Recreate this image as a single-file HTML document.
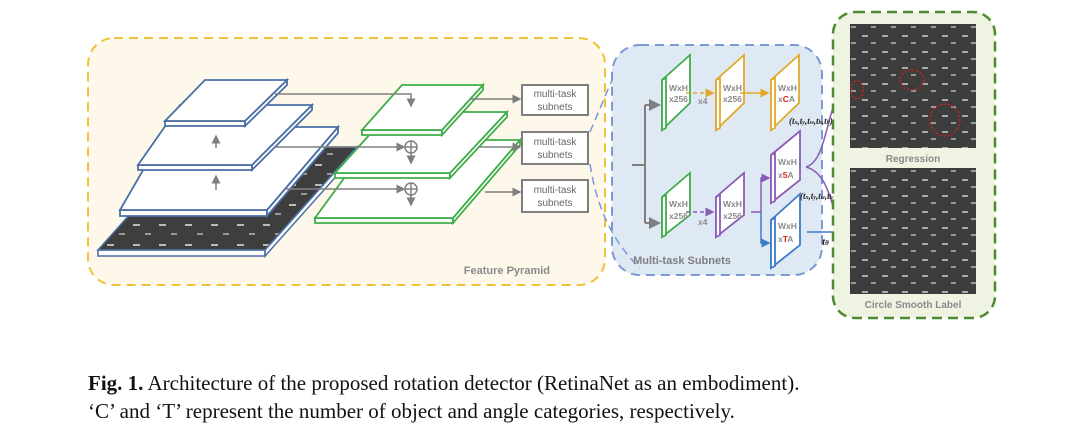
<!DOCTYPE html>
<html><head><meta charset="utf-8"><style>
html,body{margin:0;padding:0;background:#fff;width:1080px;height:442px;overflow:hidden}
svg{display:block}
</style></head><body>
<svg width="1080" height="442" viewBox="0 0 1080 442" xmlns="http://www.w3.org/2000/svg" font-family="Liberation Sans, sans-serif">
<defs>
<marker id="ag" markerWidth="6" markerHeight="6" refX="5" refY="3" orient="auto"><path d="M0,0 L6,3 L0,6z" fill="#7f7f7f"/></marker>
<marker id="ay" markerWidth="6" markerHeight="6" refX="5" refY="3" orient="auto"><path d="M0,0 L6,3 L0,6z" fill="#e0a92a"/></marker>
<marker id="ap" markerWidth="6" markerHeight="6" refX="5" refY="3" orient="auto"><path d="M0,0 L6,3 L0,6z" fill="#8a5cb5"/></marker>
<marker id="ab" markerWidth="6" markerHeight="6" refX="5" refY="3" orient="auto"><path d="M0,0 L6,3 L0,6z" fill="#3d7cc9"/></marker>
<pattern id="cars" width="26" height="20" patternUnits="userSpaceOnUse">
<rect width="26" height="20" fill="#3e3e3e"/>
<rect x="3" y="4" width="7" height="2" fill="#bbb"/><rect x="15" y="13" width="6" height="2" fill="#999"/>
</pattern>
<pattern id="cars2" width="20" height="16" patternUnits="userSpaceOnUse">
<rect width="20" height="16" fill="#3d3d3d"/>
<rect x="2" y="3" width="6" height="2" fill="#aaa"/><rect x="11" y="10" width="5" height="2" fill="#999"/>
</pattern>
</defs>

<!-- Feature pyramid panel -->
<rect x="88" y="38" width="517" height="247" rx="26" fill="#fdf8e9" stroke="#f0c23a" stroke-width="2" stroke-dasharray="9,6"/>
<text x="550" y="274" font-size="11" font-weight="bold" fill="#8a8a8a" text-anchor="end">Feature Pyramid</text>

<!-- image plane -->
<polygon points="190,147 357,147 265,250 98,250" fill="url(#cars)"/>
<polygon points="98,250 265,250 265,256 98,256" fill="#fff" stroke="#4a6fa5" stroke-width="1.5"/>
<polygon points="265,250 357,147 357,153 265,256" fill="#fff" stroke="#4a6fa5" stroke-width="1.5"/>
<polygon points="190,147 357,147 265,250 98,250" fill="none" stroke="#4a6fa5" stroke-width="1.5"/>

<!-- blue planes -->
<g stroke="#4a6fa5" stroke-width="1.8" fill="#fff">
<polygon points="120,210 267,210 267,216 120,216"/><polygon points="267,210 338,127 338,133 267,216"/>
<polygon points="168,127 338,127 267,210 120,210"/>
<polygon points="138,165 252,165 252,170 138,170"/><polygon points="252,165 312,105 312,110 252,170"/>
<polygon points="180,105 312,105 252,165 138,165"/>
<polygon points="165,121 245,121 245,126 165,126"/><polygon points="245,121 287,80 287,85 245,126"/>
<polygon points="205,80 287,80 245,121 165,121"/>
</g>
<g stroke="#7f7f7f" stroke-width="1.5" fill="none">
<line x1="216" y1="148" x2="216" y2="136" marker-end="url(#ag)"/>
<line x1="216" y1="190" x2="216" y2="176" marker-end="url(#ag)"/>
</g>

<!-- green planes -->
<g stroke="#3fae49" stroke-width="1.8" fill="#fff">
<polygon points="315,218 453,218 453,223 315,223"/><polygon points="453,218 520,140 520,145 453,223"/>
<polygon points="372,140 520,140 453,218 315,218"/>
<polygon points="335,173 450,173 450,178 335,178"/><polygon points="450,173 507,112 507,117 450,178"/>
<polygon points="390,112 507,112 450,173 335,173"/>
<polygon points="362,130 442,130 442,135 362,135"/><polygon points="442,130 483,85 483,90 442,135"/>
<polygon points="402,85 483,85 442,130 362,130"/>
</g>
<g stroke="#7f7f7f" stroke-width="1.5" fill="none">
<polyline points="275,94 411,94 411,106" marker-end="url(#ag)"/>
<line x1="275" y1="147" x2="404" y2="147" marker-end="url(#ag)"/>
<circle cx="411" cy="147" r="6"/><line x1="405" y1="147" x2="417" y2="147"/><line x1="411" y1="141" x2="411" y2="153"/>
<line x1="411" y1="153" x2="411" y2="163" marker-end="url(#ag)"/>
<line x1="285" y1="189" x2="404" y2="189" marker-end="url(#ag)"/>
<circle cx="411" cy="189" r="6"/><line x1="405" y1="189" x2="417" y2="189"/><line x1="411" y1="183" x2="411" y2="195"/>
<line x1="411" y1="195" x2="411" y2="205" marker-end="url(#ag)"/>
<line x1="470" y1="99" x2="520" y2="99" marker-end="url(#ag)"/>
<line x1="478" y1="147" x2="520" y2="147" marker-end="url(#ag)"/>
<line x1="485" y1="192" x2="520" y2="192" marker-end="url(#ag)"/>
</g>
<g fill="#fff" stroke="#7f7f7f" stroke-width="2">
<rect x="522" y="85" width="66" height="30"/><rect x="522" y="132" width="66" height="32"/><rect x="522" y="180" width="66" height="32"/>
</g>
<g font-size="10" fill="#666" text-anchor="middle">
<text x="555" y="97">multi-task</text><text x="555" y="110">subnets</text>
<text x="555" y="145">multi-task</text><text x="555" y="158">subnets</text>
<text x="555" y="193">multi-task</text><text x="555" y="206">subnets</text>
</g>

<!-- Multi-task subnets panel -->
<rect x="612" y="45" width="210" height="230" rx="28" fill="#dfe9f4" stroke="#7a9ad4" stroke-width="2" stroke-dasharray="9,6"/>
<path d="M590,132 L612,80 M590,164 Q600,230 640,268" stroke="#7a9ad4" stroke-width="1.5" stroke-dasharray="8,5" fill="none"/>
<text x="682" y="264" font-size="11" font-weight="bold" fill="#7f7f7f" text-anchor="middle">Multi-task Subnets</text>

<g stroke="#7f7f7f" stroke-width="2" fill="none">
<line x1="632" y1="165" x2="645" y2="165"/>
<polyline points="645,105 645,223"/>
<line x1="645" y1="105" x2="659" y2="105" marker-end="url(#ag)"/>
<line x1="645" y1="223" x2="659" y2="223" marker-end="url(#ag)"/>
</g>

<g stroke-width="1.8" fill="#fff">
<!-- top row -->
<g stroke="#3fae49"><polygon points="662,80 690,55 690,103 662,130"/><polygon points="662,80 666,78 666,128 662,130"/></g>
<g stroke="#e0a92a"><polygon points="716,80 744,55 744,103 716,130"/><polygon points="716,80 720,78 720,128 716,130"/></g>
<g stroke="#e0a92a"><polygon points="771,80 799,55 799,103 771,130"/><polygon points="771,80 775,78 775,128 771,130"/></g>
<!-- bottom row -->
<g stroke="#3fae49"><polygon points="662,197 690,173 690,215 662,237"/><polygon points="662,197 666,195 666,235 662,237"/></g>
<g stroke="#8a5cb5"><polygon points="716,197 744,173 744,215 716,237"/><polygon points="716,197 720,195 720,235 716,237"/></g>
<g stroke="#8a5cb5"><polygon points="771,155 800,131 800,180 771,203"/><polygon points="771,155 775,153 775,201 771,203"/></g>
<g stroke="#3d7cc9"><polygon points="771,220 800,194 800,245 771,268"/><polygon points="771,220 775,218 775,266 771,268"/></g>
</g>
<g font-size="8.5" font-weight="bold" fill="#8a8a8a">
<text x="669" y="91">WxH</text><text x="669" y="102">x256</text>
<text x="723" y="91">WxH</text><text x="723" y="102">x256</text>
<text x="778" y="91">WxH</text><text x="778" y="102">x<tspan fill="#e02020">C</tspan>A</text>
<text x="669" y="207">WxH</text><text x="669" y="219">x256</text>
<text x="723" y="207">WxH</text><text x="723" y="219">x256</text>
<text x="778" y="165">WxH</text><text x="778" y="178">x<tspan fill="#e02020">5</tspan>A</text>
<text x="778" y="229">WxH</text><text x="778" y="242">x<tspan fill="#e02020">T</tspan>A</text>
<text x="698" y="104">x4</text><text x="698" y="225">x4</text>
</g>
<g fill="none" stroke-width="1.5">
<line x1="686" y1="93" x2="713" y2="93" stroke="#e0a92a" stroke-dasharray="4,3" marker-end="url(#ay)"/>
<line x1="740" y1="93" x2="768" y2="93" stroke="#e0a92a" marker-end="url(#ay)"/>
<line x1="686" y1="212" x2="713" y2="212" stroke="#8a5cb5" stroke-dasharray="4,3" marker-end="url(#ap)"/>
<polyline points="751,212 761,212 761,178 769,178" stroke="#8a5cb5" marker-end="url(#ap)"/>
<polyline points="761,212 761,243 769,243" stroke="#3d7cc9" marker-end="url(#ab)"/>
<path d="M806,167 C830,160 825,95 848,88" stroke="#8a5cb5" marker-end="url(#ap)"/>
<path d="M806,167 C835,175 830,225 848,232" stroke="#8a5cb5" marker-end="url(#ap)"/>
<line x1="807" y1="232" x2="848" y2="232" stroke="#3d7cc9" marker-end="url(#ab)"/>
</g>
<g font-family="Liberation Serif, serif" font-style="italic" font-weight="bold" font-size="9" fill="#222">
<text x="789" y="124">(t<tspan font-size="6">x</tspan>,t<tspan font-size="6">y</tspan>,t<tspan font-size="6">w</tspan>,t<tspan font-size="6">h</tspan>,t<tspan font-size="6">θ</tspan>)</text>
<text x="800" y="199">(t<tspan font-size="6">x</tspan>,t<tspan font-size="6">y</tspan>,t<tspan font-size="6">w</tspan>,t<tspan font-size="6">h</tspan>)</text>
<text x="822" y="245" font-size="11">t<tspan font-size="7">θ</tspan></text>
</g>

<!-- right panel -->
<rect x="833" y="12" width="162" height="306" rx="22" fill="#eef3e2" stroke="#4f8a2e" stroke-width="2.5" stroke-dasharray="10,6"/>
<rect x="850" y="24" width="126" height="124" fill="url(#cars2)"/>
<rect x="850" y="168" width="126" height="126" fill="url(#cars2)"/>
<g fill="none" stroke="#e02020" stroke-width="1.3" stroke-dasharray="2,2">
<ellipse cx="857" cy="90" rx="6" ry="9"/><ellipse cx="912" cy="80" rx="12" ry="10"/><ellipse cx="945" cy="120" rx="15" ry="16"/>
</g>
<text x="913" y="162" font-size="10" font-weight="bold" fill="#8a8a8a" text-anchor="middle">Regression</text>
<text x="913" y="308" font-size="10" font-weight="bold" fill="#8a8a8a" text-anchor="middle">Circle Smooth Label</text>

<!-- caption -->
<g font-family="Liberation Serif, serif" font-size="21" fill="#111">
<text x="88" y="390"><tspan font-weight="bold">Fig. 1.</tspan> Architecture of the proposed rotation detector (RetinaNet as an embodiment).</text>
<text x="88" y="418">‘C’ and ‘T’ represent the number of object and angle categories, respectively.</text>
</g>
</svg>
</body></html>
